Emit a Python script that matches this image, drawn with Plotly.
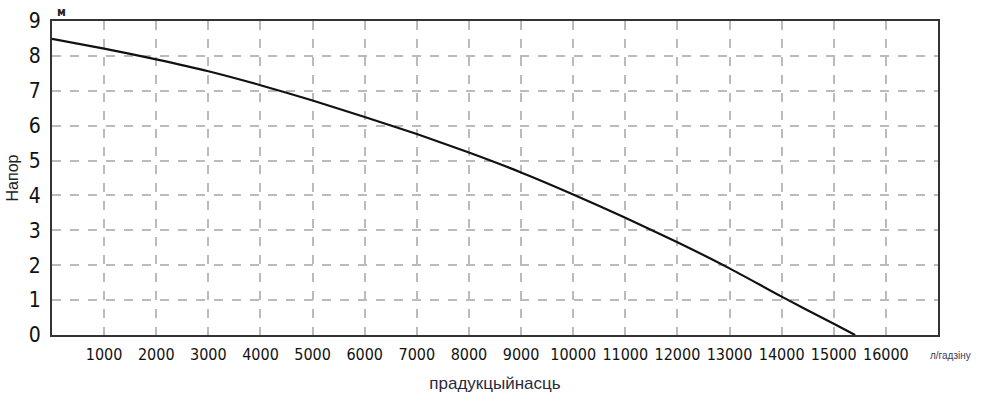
import plotly.graph_objects as go

flow = [0, 1000, 2000, 3000, 4000, 5000, 6000, 7000, 8000, 9000, 10000, 11000, 12000, 13000, 14000, 15000, 15410]
head = [8.49, 8.21, 7.90, 7.56, 7.16, 6.72, 6.25, 5.76, 5.23, 4.66, 4.03, 3.36, 2.66, 1.91, 1.10, 0.32, 0.0]
x_ticks = list(range(1000, 17000, 1000))
y_ticks = list(range(0, 10))

tick_family = "DejaVu Sans Condensed, sans-serif"

fig = go.Figure()
fig.add_trace(go.Scatter(x=flow, y=head, mode="lines",
                         line=dict(color="#111", width=2.2, shape="spline", smoothing=0.6),
                         hoverinfo="skip", showlegend=False))

fig.update_layout(
    width=993, height=403,
    margin=dict(l=52, r=55, t=21, b=68),
    plot_bgcolor="white", paper_bgcolor="white",
    xaxis=dict(range=[0, 17000], tickvals=x_ticks, ticktext=[str(v) for v in x_ticks],
               showgrid=True, gridcolor="#bbbbbb", griddash="dash", gridwidth=1.5,
               showline=True, linecolor="#333", linewidth=2, mirror=True, automargin=False,
               ticks="", ticklabelstandoff=4, tickangle=0,
               tickfont=dict(family=tick_family, size=16, color="#111"), zeroline=False,
               title=dict(text="прадукцыйнасць", font=dict(family="Liberation Sans, Arial, sans-serif", size=17, color="#2a2a40"), standoff=14)),
    yaxis=dict(range=[0, 9], tickvals=y_ticks, showgrid=True, gridcolor="#bbbbbb", griddash="dash", gridwidth=1.5,
               showline=True, linecolor="#333", linewidth=2, mirror=True, automargin=False,
               ticks="", ticklabelstandoff=5, tickfont=dict(family=tick_family, size=21, color="#111"), zeroline=False,
               title=dict(text="Напор", font=dict(family="Liberation Sans, Arial, sans-serif", size=16, color="#222"), standoff=6)),
    annotations=[
        dict(text="м", x=0, y=1, xref="paper", yref="paper", xanchor="left", yanchor="bottom",
             xshift=3, yshift=0, showarrow=False, font=dict(family=tick_family, size=12, color="#222", weight="bold")),
        dict(text="л/гадзіну", x=1, y=0, xref="paper", yref="paper", xanchor="left", yanchor="top",
             xshift=-10, yshift=-13, showarrow=False, font=dict(family="Liberation Sans, sans-serif", size=10, color="#3a3a55")),
    ],
)

fig.write_html("out.html", config={"displayModeBar": False},
               post_script="document.body.style.margin='0';")
